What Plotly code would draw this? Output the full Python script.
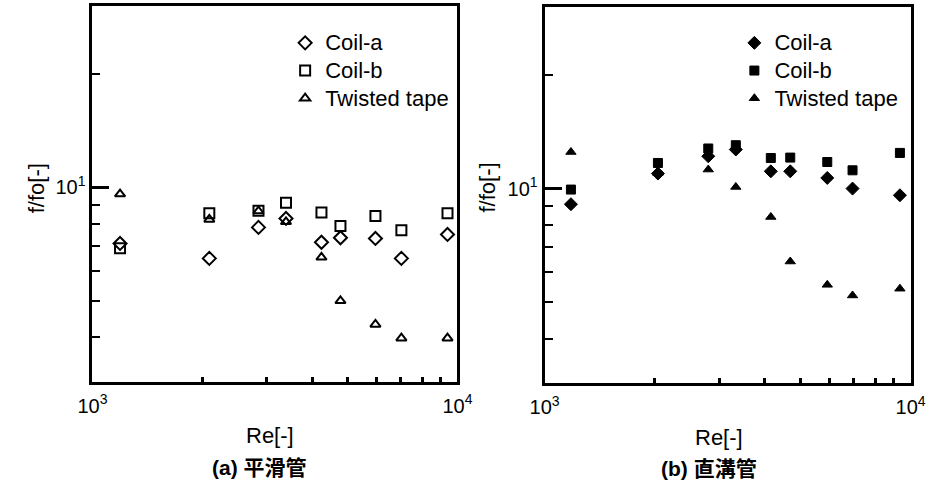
import plotly.graph_objects as go

# ---- data ----
re_a = [1190, 2090, 2850, 3390, 4240, 4780, 5960, 7020, 9390]
coil_a_smooth = [7.10, 6.48, 7.83, 8.27, 7.15, 7.35, 7.32, 6.48, 7.50]
coil_b_smooth = [6.89, 8.53, 8.67, 9.10, 8.58, 7.90, 8.39, 7.70, 8.53]
tape_smooth = [9.60, 8.22, 8.65, 8.10, 6.52, 5.00, 4.33, 3.98, 3.98]

re_b = [1180, 2040, 2800, 3330, 4150, 4690, 5920, 6940, 9350]
coil_a_groove = [9.09, 10.96, 12.18, 12.69, 11.11, 11.11, 10.67, 10.00, 9.60]
coil_b_groove = [9.94, 11.69, 12.77, 13.03, 12.05, 12.08, 11.76, 11.18, 12.43]
tape_groove = [12.50, 11.00, 11.23, 10.10, 8.41, 6.41, 5.56, 5.21, 5.43]

series_names = ["Coil-a", "Coil-b", "Twisted tape"]
x_major = [1000, 10000]
x_major_text = ["10<sup>3</sup>", "10<sup>4</sup>"]
x_minor = [2000, 3000, 4000, 5000, 6000, 7000, 8000, 9000]
y_major = [10]
y_major_text = ["10<sup>1</sup>"]
y_minor = [4, 5, 6, 7, 8, 9, 20]

FONT = "Arial, 'Liberation Sans', 'Noto Sans CJK JP', sans-serif"


def legend_label(name):
    return f'<span style="font-size:22px">{name}</span>'


fig = go.Figure()

open_syms = ["diamond-open", "square-open", "triangle-up-open"]
fill_syms = ["diamond", "square", "triangle-up"]

for name, ys, sym, sz in zip(series_names, [coil_a_smooth, coil_b_smooth, tape_smooth], open_syms, [10, 10, 9]):
    fig.add_trace(go.Scatter(x=re_a, y=ys, mode="markers", name=legend_label(name),
                             marker=dict(symbol=sym, size=sz, color="black",
                                         line=dict(width=2, color="black")),
                             xaxis="x", yaxis="y", legend="legend"))

for name, ys, sym, sz in zip(series_names, [coil_a_groove, coil_b_groove, tape_groove], fill_syms, [10, 9, 9]):
    fig.add_trace(go.Scatter(x=re_b, y=ys, mode="markers", name=legend_label(name),
                             marker=dict(symbol=sym, size=sz, color="black",
                                         line=dict(width=1, color="black")),
                             xaxis="x2", yaxis="y2", legend="legend2"))


def xaxis(domain, anchor):
    return dict(type="log", range=[3, 4], domain=domain, anchor=anchor,
                showgrid=False, zeroline=False,
                showline=True, linewidth=3, linecolor="black", mirror=True,
                tickmode="array", tickvals=x_major, ticktext=x_major_text,
                ticks="inside", ticklen=5, tickwidth=2, tickcolor="black",
                ticklabelstandoff=4,
                tickfont=dict(family=FONT, size=20, color="black"),
                minor=dict(tickmode="array", tickvals=x_minor, ticks="inside",
                           ticklen=5, tickwidth=2.5, tickcolor="black"))


def yaxis(domain, anchor):
    return dict(type="log", range=[0.485, 1.481], domain=domain, anchor=anchor,
                showgrid=False, zeroline=False,
                showline=True, linewidth=3, linecolor="black", mirror=True,
                tickmode="array", tickvals=y_major, ticktext=y_major_text,
                ticks="inside", ticklen=17, tickwidth=2.5, tickcolor="black",
                tickfont=dict(family=FONT, size=20, color="black"),
                minor=dict(tickmode="array", tickvals=y_minor, ticks="inside",
                           ticklen=8, tickwidth=2, tickcolor="black"))


legend_common = dict(font=dict(family=FONT, size=19, color="black"),
                     bgcolor="rgba(0,0,0,0)", borderwidth=0,
                     xanchor="left", yanchor="top", tracegroupgap=0,
                     itemsizing="trace")

fig.update_layout(
    width=944, height=486,
    margin=dict(l=0, r=0, t=0, b=0),
    paper_bgcolor="white", plot_bgcolor="white",
    font=dict(family=FONT, color="black"),
    xaxis=xaxis([80 / 944, 457 / 944], "y"),
    yaxis=yaxis([1 - 381.5 / 486, 1 - 6 / 486], "x"),
    xaxis2=xaxis([547 / 944, 925 / 944], "y2"),
    yaxis2=yaxis([1 - 383 / 486, 1 - 7 / 486], "x2"),
    legend=dict(x=279 / 944, y=1 - 24 / 486, **legend_common),
    legend2=dict(x=743 / 944, y=1 - 24 / 486, **legend_common),
)

annots = [
    ("f/fo[-]", 22 / 944, 1 - 188 / 486, -90, False),
    ("f/fo[-]", 487 / 944, 1 - 188 / 486, -90, False),
    ("Re[-]", 263 / 944, 1 - 435 / 486, 0, False),
    ("Re[-]", 727 / 944, 1 - 437 / 486, 0, False),
    ("(a) 平滑管", 253 / 944, 1 - 467 / 486, 0, True),
    ("(b) 直溝管", 717 / 944, 1 - 468 / 486, 0, True),
]
for txt, x, y, ang, bold in annots:
    fig.add_annotation(text=f"<b>{txt}</b>" if bold else txt, x=x, y=y,
                       xref="paper", yref="paper", showarrow=False,
                       textangle=ang, xanchor="center", yanchor="middle",
                       font=dict(family=FONT, size=22 if not bold else 21, color="black"))

fig.write_html("out.html")
